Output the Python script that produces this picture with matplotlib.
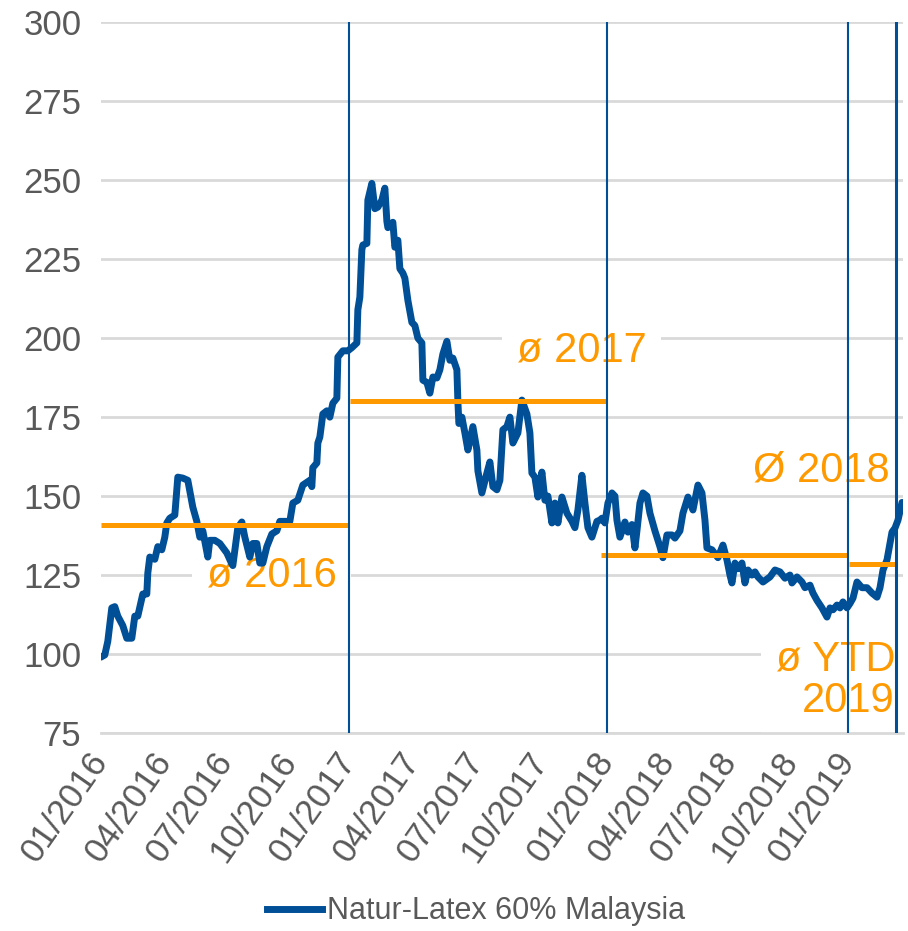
"""Natur-Latex 60% Malaysia price index with yearly averages."""

import matplotlib

matplotlib.use("Agg")
import matplotlib.pyplot as plt
from matplotlib.lines import Line2D

plt.rcParams["font.family"] = ["Liberation Sans", "DejaVu Sans"]

# trading-day index (categorical axis position) and index value
trading_day = [
    0, 4, 7, 11, 14, 17, 22, 26, 31, 34, 37, 42, 46, 47, 49, 54, 57, 61, 64, 66,
    69, 74, 77, 82, 87, 92, 96, 99, 102, 107, 109, 114, 119, 126, 131, 132, 137,
    141, 144, 149, 152, 156, 159, 162, 166, 171, 176, 179, 189, 192, 197, 202,
    209, 211, 212, 216, 217, 219, 222, 226, 229, 232, 236, 237, 242, 247, 251,
    256, 257, 259, 261, 262, 266, 267, 271, 274, 277, 281, 284, 286, 287, 292,
    294, 297, 299, 302, 304, 307, 311, 314, 317, 321, 322, 326, 329, 332, 336,
    339, 342, 346, 349, 352, 356, 357, 358, 361, 364, 367, 372, 376, 377, 381,
    386, 389, 392, 396, 399, 402, 406, 409, 412, 417, 421, 426, 429, 431, 434,
    437, 441, 444, 447, 451, 454, 457, 461, 466, 471, 474, 477, 481, 484, 487,
    491, 496, 499, 501, 504, 507, 511, 514, 516, 519, 524, 527, 531, 534, 536,
    539, 542, 546, 549, 554, 559, 562, 566, 571, 574, 579, 582, 587, 592, 597,
    601, 604, 606, 611, 617, 622, 626, 629, 631, 634, 637, 641, 644, 647, 651,
    654, 657, 662, 669, 674, 679, 684, 689, 691, 696, 701, 704, 709, 712, 716,
    721, 726, 729, 732, 736, 739, 742, 746, 749, 752, 756, 761, 766, 771, 776,
    779, 782, 786, 791, 794, 797, 801,
]
price = [
    99, 99.7, 104, 114.6, 115, 112, 109, 105, 105, 112, 112, 119, 119, 125.6,
    130.7, 130, 134, 133, 137, 141.5, 143, 144, 156, 155.7, 155, 146.5, 142, 137,
    139, 130.7, 136, 136, 135, 132, 128.5, 128, 140, 141.8, 137, 130.7, 135, 135,
    128.8, 128.8, 134, 138, 139, 142, 142, 147.8, 148.7, 153.5, 155, 153, 159,
    160.5, 166.8, 168.7, 176, 177, 175, 179.4, 181, 194, 196, 196, 197, 198.5,
    209, 213, 228, 229.5, 230, 243.7, 249, 241, 241.5, 243.7, 247.5, 237, 235,
    236.7, 228.8, 231, 222, 220.6, 219, 212, 205, 204, 200, 198.5, 186.7, 186,
    182.6, 187.7, 187.4, 190, 195, 199, 193, 193.7, 190, 180, 173, 175, 170,
    164.6, 172, 164.6, 158, 151, 157.3, 160.8, 153, 152, 155, 171, 172, 175,
    166.8, 170, 180.4, 176, 170, 157.3, 156, 149.7, 157.6, 148.7, 150, 141.5,
    147.8, 141.5, 149.7, 144.6, 142, 140, 145.6, 156.6, 147.8, 140, 137, 142,
    142.4, 143, 141.5, 147.8, 151, 150, 142.4, 137, 141.8, 138.6, 141, 133.6,
    139, 147.8, 151, 150, 144.6, 139, 134, 130.5, 137.7, 137.7, 136.7, 139,
    144.6, 149.7, 145.6, 153.5, 151, 142.4, 133.6, 133, 130.5, 134.5, 129.8, 125,
    122.5, 128.8, 127, 128.8, 122.5, 126.6, 125, 126, 124.4, 122.8, 124.4, 126.6,
    126, 124, 125, 122.5, 124.4, 122.8, 121, 121.8, 119.3, 117, 114.6, 111.7,
    114.6, 114, 115.5, 114.6, 116.5, 114.6, 116, 117.7, 122.8, 121, 121, 119.3,
    118, 121, 126.6, 129.8, 138.6, 139.9, 142.4, 148,
]

# quarter-start categories on the x axis
quarter_labels = [
    "01/2016", "04/2016", "07/2016", "10/2016",
    "01/2017", "04/2017", "07/2017", "10/2017",
    "01/2018", "04/2018", "07/2018", "10/2018",
    "01/2019",
]
quarter_day = [0, 64, 125, 189, 248, 312, 376, 440, 506, 567, 629, 690, 747]

# year separators (last one marks the latest data point)
separator_day = [248, 506, 747, 795]

# yearly averages and the day range each covers
avg_labels = ["ø 2016", "ø 2017", "Ø 2018", "ø YTD\n2019"]
avg_values = [140.8, 180.1, 131.3, 128.5]
avg_start = [0, 249, 500, 748]
avg_end = [248, 506, 746, 796]

BLUE = "#004f97"
ORANGE = "#ff9900"
GRAY = "#595959"

fig = plt.figure(figsize=(9.08, 9.31), dpi=100)
ax = fig.add_axes([0.111, 0.2127, 0.8835, 0.7633])

ax.plot(trading_day, price, color=BLUE, lw=5, solid_joinstyle="round",
        solid_capstyle="round", zorder=4)

for i, day in enumerate(separator_day):
    ax.axvline(day, color=BLUE, lw=2.2 if i == len(separator_day) - 1 else 1.5,
               zorder=6)

for val, start, end in zip(avg_values, avg_start, avg_end):
    ax.plot([start, end], [val, val], color=ORANGE, lw=3.6,
            solid_capstyle="butt", zorder=5)

box = dict(boxstyle="square,pad=0.35", fc="white", ec="none")
ax.text(171, 125, avg_labels[0], color=ORANGE, fontsize=30, ha="center",
        va="center", bbox=box, zorder=3)
ax.text(481, 196.2, avg_labels[1], color=ORANGE, fontsize=30, ha="center",
        va="center", bbox=box, zorder=3)
ax.text(720, 158.2, avg_labels[2], color=ORANGE, fontsize=30, ha="center",
        va="center", zorder=3)
ax.text(794, 91.8, avg_labels[3], color=ORANGE, fontsize=30, ha="right",
        va="center", linespacing=1.05, bbox=box, zorder=3)

ax.set_xlim(0, 802)
ax.set_ylim(75, 300)
ax.set_yticks(range(75, 301, 25))
ax.set_xticks(quarter_day)
ax.set_xticklabels(quarter_labels, rotation=55, ha="right", va="center",
                   rotation_mode="anchor")
ax.tick_params(axis="y", length=0, pad=14, labelsize=25, labelcolor=GRAY)
ax.tick_params(axis="x", length=0, pad=16, labelsize=25, labelcolor=GRAY)

ax.grid(axis="y", color="#d9d9d9", lw=2, zorder=0)
ax.set_axisbelow(True)
for side in ["left", "right", "top"]:
    ax.spines[side].set_visible(False)
ax.spines["bottom"].set_color("#d9d9d9")
ax.spines["bottom"].set_linewidth(2)
ax.spines["bottom"].set_zorder(3.5)

handle = Line2D([], [], color=BLUE, lw=5)
fig.legend([handle], ["Natur-Latex 60% Malaysia"], loc="center",
           bbox_to_anchor=(0.524, 0.021), frameon=False, fontsize=22,
           labelcolor=GRAY, handlelength=1.8, handletextpad=0.15)

fig.savefig("out.png", dpi=100)
